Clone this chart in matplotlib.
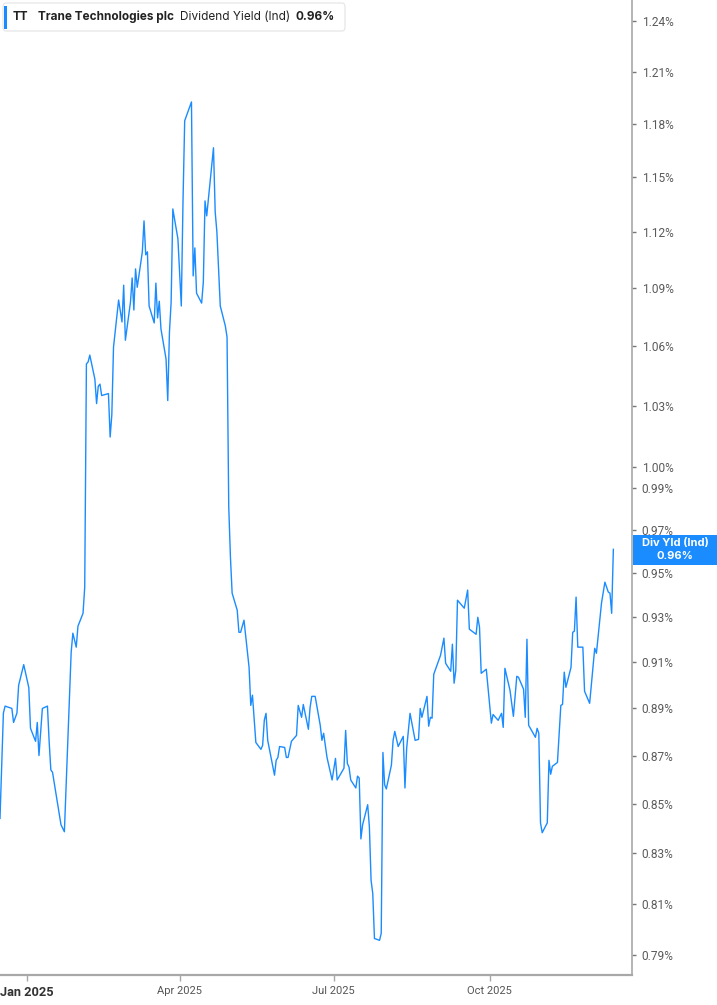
import matplotlib
matplotlib.use("Agg")
import matplotlib.pyplot as plt
from matplotlib.patches import FancyBboxPatch, Rectangle
from matplotlib.ticker import FixedLocator, FuncFormatter, NullLocator
import pandas as pd

# Trane Technologies (TT) dividend yield
dates = [
    "2024-12-16", "2024-12-18", "2024-12-19", "2024-12-23", "2024-12-24", "2024-12-26",
    "2024-12-27", "2024-12-30", "2025-01-02", "2025-01-03", "2025-01-06", "2025-01-07",
    "2025-01-08", "2025-01-10", "2025-01-13", "2025-01-14", "2025-01-15", "2025-01-16",
    "2025-01-21", "2025-01-23", "2025-01-27", "2025-01-28", "2025-01-30", "2025-01-31",
    "2025-02-03", "2025-02-04", "2025-02-05", "2025-02-06", "2025-02-07", "2025-02-10",
    "2025-02-11", "2025-02-12", "2025-02-13", "2025-02-14", "2025-02-18", "2025-02-19",
    "2025-02-20", "2025-02-21", "2025-02-24", "2025-02-26", "2025-02-27", "2025-02-28",
    "2025-03-03", "2025-03-04", "2025-03-05", "2025-03-06", "2025-03-07", "2025-03-10",
    "2025-03-11", "2025-03-12", "2025-03-13", "2025-03-14", "2025-03-17", "2025-03-18",
    "2025-03-19", "2025-03-20", "2025-03-21", "2025-03-24", "2025-03-25", "2025-03-26",
    "2025-03-27", "2025-03-28", "2025-03-31", "2025-04-02", "2025-04-03", "2025-04-04",
    "2025-04-08", "2025-04-09", "2025-04-10", "2025-04-11", "2025-04-14", "2025-04-15",
    "2025-04-16", "2025-04-17", "2025-04-21", "2025-04-22", "2025-04-23", "2025-04-25",
    "2025-04-28", "2025-04-29", "2025-04-30", "2025-05-01", "2025-05-02", "2025-05-05",
    "2025-05-06", "2025-05-07", "2025-05-09", "2025-05-12", "2025-05-13", "2025-05-14",
    "2025-05-16", "2025-05-19", "2025-05-20", "2025-05-21", "2025-05-22", "2025-05-23",
    "2025-05-27", "2025-05-28", "2025-05-29", "2025-05-30", "2025-06-02", "2025-06-03",
    "2025-06-04", "2025-06-06", "2025-06-09", "2025-06-10", "2025-06-12", "2025-06-13",
    "2025-06-16", "2025-06-17", "2025-06-18", "2025-06-20", "2025-06-23", "2025-06-24",
    "2025-06-25", "2025-06-27", "2025-06-30", "2025-07-02", "2025-07-03", "2025-07-07",
    "2025-07-08", "2025-07-09", "2025-07-10", "2025-07-11", "2025-07-14", "2025-07-15",
    "2025-07-16", "2025-07-17", "2025-07-18", "2025-07-21", "2025-07-22", "2025-07-23",
    "2025-07-24", "2025-07-25", "2025-07-28", "2025-07-29", "2025-07-30", "2025-07-31",
    "2025-08-01", "2025-08-04", "2025-08-05", "2025-08-06", "2025-08-08", "2025-08-11",
    "2025-08-12", "2025-08-13", "2025-08-15", "2025-08-18", "2025-08-20", "2025-08-21",
    "2025-08-22", "2025-08-25", "2025-08-26", "2025-08-27", "2025-08-28", "2025-08-29",
    "2025-09-02", "2025-09-04", "2025-09-05", "2025-09-08", "2025-09-09", "2025-09-10",
    "2025-09-11", "2025-09-12", "2025-09-16", "2025-09-18", "2025-09-19", "2025-09-23",
    "2025-09-24", "2025-09-25", "2025-09-26", "2025-09-29", "2025-10-02", "2025-10-03",
    "2025-10-06", "2025-10-08", "2025-10-09", "2025-10-10", "2025-10-13", "2025-10-15",
    "2025-10-17", "2025-10-18", "2025-10-21", "2025-10-22", "2025-10-23", "2025-10-24",
    "2025-10-28", "2025-10-29", "2025-10-30", "2025-10-31", "2025-11-01", "2025-11-04",
    "2025-11-05", "2025-11-06", "2025-11-07", "2025-11-10", "2025-11-12", "2025-11-13",
    "2025-11-14", "2025-11-15", "2025-11-18", "2025-11-19", "2025-11-20", "2025-11-21",
    "2025-11-22", "2025-11-25", "2025-11-26", "2025-11-29", "2025-12-02", "2025-12-03",
    "2025-12-06", "2025-12-08", "2025-12-10", "2025-12-11", "2025-12-12", "2025-12-13",
]
div_yield = [
    0.844, 0.888, 0.891, 0.890, 0.884, 0.888,
    0.900, 0.909, 0.899, 0.8815, 0.876, 0.884,
    0.870, 0.890, 0.891, 0.876, 0.864, 0.863,
    0.8414, 0.8386, 0.9144, 0.9229, 0.9167, 0.926,
    0.9318, 0.9436, 1.0509, 1.0519, 1.0554, 1.0432,
    1.031, 1.0397, 1.0407, 1.035, 1.036, 1.0145,
    1.0255, 1.0595, 1.0838, 1.0724, 1.0916, 1.063,
    1.0827, 1.0954, 1.0786, 1.1002, 1.0905, 1.1093,
    1.126, 1.1077, 1.1093, 1.0807, 1.0719, 1.0927,
    1.0745, 1.0832, 1.0688, 1.0534, 1.0325, 1.0670,
    1.0827, 1.1325, 1.1163, 1.0807, 1.1363, 1.1817,
    1.1925, 1.0965, 1.1114, 1.0874, 1.0822, 1.0932,
    1.1369, 1.1287, 1.1664, 1.1309, 1.120, 1.0807,
    1.0703, 1.0646, 0.981, 0.9574, 0.9409, 0.9332,
    0.9233, 0.9233, 0.9287, 0.9078, 0.8913, 0.8957,
    0.8755, 0.8726, 0.8743, 0.885, 0.8879, 0.8764,
    0.8618, 0.868, 0.8692, 0.8738, 0.8734, 0.8692,
    0.8692, 0.876, 0.8785, 0.8913, 0.8862, 0.8917,
    0.8811, 0.8904, 0.8952, 0.8952, 0.8828, 0.8764,
    0.8794, 0.8692, 0.8598, 0.8688, 0.8598, 0.8647,
    0.8806, 0.8667, 0.8651, 0.8598, 0.8565, 0.8614,
    0.8606, 0.8357, 0.8414, 0.8496, 0.8406, 0.8192,
    0.814, 0.7965, 0.7958, 0.7985, 0.8713, 0.8578,
    0.8561, 0.866, 0.8764, 0.8802, 0.8738, 0.8781,
    0.8565, 0.873, 0.8879, 0.8764, 0.8768, 0.890,
    0.8862, 0.8952, 0.8824, 0.8862, 0.8858, 0.9048,
    0.9131, 0.9207, 0.9096, 0.9061, 0.918, 0.9009,
    0.9065, 0.9377, 0.9341, 0.9423, 0.9247, 0.9224,
    0.930, 0.9256, 0.9052, 0.907, 0.8837, 0.8874,
    0.8849, 0.8879, 0.8819, 0.9074, 0.8978, 0.8866,
    0.9039, 0.9035, 0.8983, 0.8862, 0.9202, 0.8828,
    0.8777, 0.8815, 0.8794, 0.8422, 0.8382, 0.8422,
    0.868, 0.8622, 0.8655, 0.8671, 0.8913, 0.8917,
    0.9057, 0.8991, 0.9078, 0.9233, 0.9238, 0.9391,
    0.9167, 0.9167, 0.8974, 0.8922, 0.9162, 0.914,
    0.9364, 0.9459, 0.9414, 0.9409, 0.9318, 0.961,
]
y_ticks = [0.79, 0.81, 0.83, 0.85, 0.87, 0.89, 0.91, 0.93, 0.95, 0.97, 0.99,
           1.00, 1.03, 1.06, 1.09, 1.12, 1.15, 1.18, 1.21, 1.24]
x_ticks = ["2025-01-01", "2025-04-01", "2025-07-01", "2025-10-01"]
x_labels = ["Jan 2025", "Apr 2025", "Jul 2025", "Oct 2025"]
ticker = "TT"
company = "Trane Technologies plc"
metric = "Dividend Yield (Ind)"
last_value = div_yield[-1]

W, H = 717, 1005
BLUE = "#1a8cff"
GREY = "#a8a8a8"

fig = plt.figure(figsize=(W / 100, H / 100), dpi=100)
ax = fig.add_axes([0, 30 / H, 632 / W, 1 - 30 / H])

x = pd.to_datetime(dates)
ax.plot(x, div_yield, color=BLUE, lw=1.0)

ax.set_yscale("log")
ax.set_ylim(0.7826, 1.2526)
ax.set_xlim(pd.Timestamp("2024-12-16"), pd.Timestamp("2025-12-24"))

ax.yaxis.set_major_locator(FixedLocator(y_ticks))
ax.yaxis.set_minor_locator(NullLocator())
ax.yaxis.set_major_formatter(FuncFormatter(lambda v, p: f"{v:.2f}%"))
ax.yaxis.tick_right()
ax.tick_params(axis="y", which="major", direction="out", length=3, width=1,
               color="#777777", labelsize=8.6, labelcolor="#5a5a5a", pad=4)
for lab in ax.get_yticklabels():
    lab.set_fontfamily("Roboto")

ax.set_xticks(pd.to_datetime(x_ticks))
ax.set_xticklabels(x_labels)
ax.tick_params(axis="x", direction="out", length=4, width=1, color=GREY,
               labelsize=8, labelcolor="#555555", pad=4)
for i, lab in enumerate(ax.get_xticklabels()):
    lab.set_fontfamily("Roboto")
    if i == 0:
        lab.set_fontweight("bold")
        lab.set_fontsize(9.2)
        lab.set_color("#333333")

for side in ["left", "top"]:
    ax.spines[side].set_visible(False)
ax.spines["right"].set_color(GREY)
ax.spines["bottom"].set_color(GREY)
ax.spines["bottom"].set_linewidth(1.6)
ax.spines["right"].set_linewidth(1.2)


def fx(px):
    return px / W


def fy(py):
    return 1 - py / H


# header box
fig.patches.append(FancyBboxPatch((fx(3), fy(31)), fx(342), 28 / H,
                                  boxstyle="round,pad=0,rounding_size=0.004",
                                  transform=fig.transFigure, facecolor="white",
                                  edgecolor="#e4e4e4", lw=0.8, zorder=5))
fig.patches.append(Rectangle((fx(4), fy(29)), fx(3), 23 / H, transform=fig.transFigure,
                             facecolor=BLUE, edgecolor="none", zorder=6))
hdr = dict(fontsize=8.5, color="#222222", va="center", fontfamily="Inter", zorder=7)
fig.text(fx(13), fy(17), ticker, fontweight="bold", **hdr)
fig.text(fx(38), fy(17), company, fontweight="bold", **hdr)
fig.text(fx(180), fy(17), metric, **hdr)
fig.text(fx(296), fy(17), f"{last_value:.2f}%", fontweight="bold", **hdr)

# last value tag on the right axis
fig.patches.append(Rectangle((fx(633), fy(565)), fx(84), 30 / H, transform=fig.transFigure,
                             facecolor=BLUE, edgecolor="none", zorder=5))
tag = dict(fontsize=8, color="white", ha="center", va="center", fontweight="bold",
           fontfamily="Inter", zorder=6)
fig.text(fx(675), fy(543), "Div Yld (Ind)", **tag)
fig.text(fx(675), fy(556), f"{last_value:.2f}%", **tag)

fig.savefig("out.png", dpi=100)
